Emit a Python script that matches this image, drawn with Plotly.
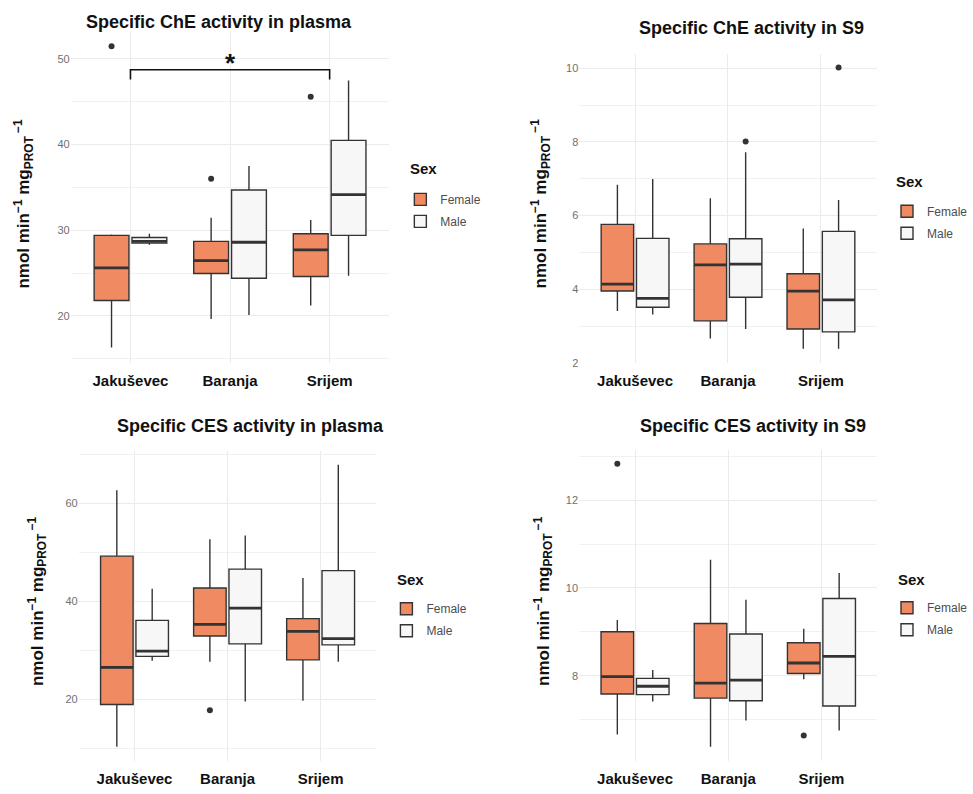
import plotly.graph_objects as go

# ---------------- data ----------------
categories = ["Jakuševec", "Baranja", "Srijem"]
sexes = ["Female", "Male"]

# Panel 1: Specific ChE activity in plasma
che_pl_f_lo = [16.3, 19.65, 21.2]
che_pl_f_q1 = [21.8, 24.95, 24.6]
che_pl_f_med = [25.6, 26.45, 27.7]
che_pl_f_q3 = [29.4, 28.7, 29.6]
che_pl_f_hi = [29.5, 31.45, 31.2]
che_pl_f_out = [[51.5], [36.0], [45.6]]
che_pl_m_lo = [28.3, 20.1, 24.7]
che_pl_m_q1 = [28.5, 24.4, 29.4]
che_pl_m_med = [28.7, 28.6, 34.15]
che_pl_m_q3 = [29.15, 34.7, 40.5]
che_pl_m_hi = [29.6, 37.5, 47.5]
che_pl_m_out = [[], [], []]

# Panel 2: Specific ChE activity in S9
che_s9_f_lo = [3.41, 2.66, 2.38]
che_s9_f_q1 = [3.95, 3.14, 2.92]
che_s9_f_med = [4.135, 4.66, 3.95]
che_s9_f_q3 = [5.76, 5.23, 4.42]
che_s9_f_hi = [6.84, 6.47, 5.65]
che_s9_f_out = [[], [], []]
che_s9_m_lo = [3.31, 2.92, 2.38]
che_s9_m_q1 = [3.51, 3.78, 2.84]
che_s9_m_med = [3.75, 4.68, 3.71]
che_s9_m_q3 = [5.38, 5.37, 5.57]
che_s9_m_hi = [6.99, 7.72, 6.42]
che_s9_m_out = [[], [8.01], [10.02]]

# Panel 3: Specific CES activity in plasma
ces_pl_f_lo = [10.35, 27.7, 19.75]
ces_pl_f_q1 = [19.0, 32.97, 28.1]
ces_pl_f_med = [26.55, 35.33, 33.9]
ces_pl_f_q3 = [49.26, 42.77, 36.5]
ces_pl_f_hi = [62.7, 52.7, 44.8]
ces_pl_f_out = [[], [17.8], []]
ces_pl_m_lo = [27.9, 19.6, 27.7]
ces_pl_m_q1 = [28.8, 31.35, 31.15]
ces_pl_m_med = [29.87, 38.65, 32.43]
ces_pl_m_q3 = [36.15, 46.6, 46.3]
ces_pl_m_hi = [42.6, 53.45, 67.9]
ces_pl_m_out = [[], [], []]

# Panel 4: Specific CES activity in S9
ces_s9_f_lo = [6.66, 6.38, 7.92]
ces_s9_f_q1 = [7.585, 7.49, 8.05]
ces_s9_f_med = [7.98, 7.83, 8.29]
ces_s9_f_q3 = [9.0, 9.19, 8.75]
ces_s9_f_hi = [9.27, 10.64, 9.07]
ces_s9_f_out = [[12.83], [], [6.64]]
ces_s9_m_lo = [7.41, 6.98, 6.75]
ces_s9_m_q1 = [7.57, 7.43, 7.31]
ces_s9_m_med = [7.76, 7.9, 8.44]
ces_s9_m_q3 = [7.94, 8.95, 9.76]
ces_s9_m_hi = [8.13, 9.73, 10.34]
ces_s9_m_out = [[], [], []]

titles = ["Specific ChE activity in plasma", "Specific ChE activity in S9",
          "Specific CES activity in plasma", "Specific CES activity in S9"]
legend_title = "Sex"

# significance bracket in panel 1
sig_pair = ("Jakuševec", "Srijem")
sig_label = "*"
sig_y = 48.75
sig_tick = 47.6
sig_label_y = 49.55

# ---------------- styling / layout ----------------
W, H = 973, 794
FONT = "Liberation Sans, Arial, Helvetica, sans-serif"
COLORS = {"Female": "#EF8A62", "Male": "#F7F7F7"}
LINE = "#333333"
BOXGAP = 0.24
BOXGROUPGAP = 0.08
YTITLE = "<b>nmol min<sup>−1</sup> mg<sub>PROT</sub><sup> −1</sup></b>"

panel_stats = [
    {"Female": (che_pl_f_lo, che_pl_f_q1, che_pl_f_med, che_pl_f_q3, che_pl_f_hi, che_pl_f_out),
     "Male": (che_pl_m_lo, che_pl_m_q1, che_pl_m_med, che_pl_m_q3, che_pl_m_hi, che_pl_m_out)},
    {"Female": (che_s9_f_lo, che_s9_f_q1, che_s9_f_med, che_s9_f_q3, che_s9_f_hi, che_s9_f_out),
     "Male": (che_s9_m_lo, che_s9_m_q1, che_s9_m_med, che_s9_m_q3, che_s9_m_hi, che_s9_m_out)},
    {"Female": (ces_pl_f_lo, ces_pl_f_q1, ces_pl_f_med, ces_pl_f_q3, ces_pl_f_hi, ces_pl_f_out),
     "Male": (ces_pl_m_lo, ces_pl_m_q1, ces_pl_m_med, ces_pl_m_q3, ces_pl_m_hi, ces_pl_m_out)},
    {"Female": (ces_s9_f_lo, ces_s9_f_q1, ces_s9_f_med, ces_s9_f_q3, ces_s9_f_hi, ces_s9_f_out),
     "Male": (ces_s9_m_lo, ces_s9_m_q1, ces_s9_m_med, ces_s9_m_q3, ces_s9_m_hi, ces_s9_m_out)},
]

# pixel geometry of each panel
geom = [
    dict(xdom=(71, 391), ydom=(30.9, 365.3), yrange=[14.5, 53.3], dtick=10, minor=5,
         title=(220, 22), ytitle=(24, 205), legend=(402, 186), legtitle=(410, 170)),
    dict(xdom=(581.7, 880.3), ydom=(53.9, 365.5), yrange=[1.99, 10.4], dtick=2, minor=1,
         title=(755, 28), ytitle=(543, 205), legend=(891, 198), legtitle=(898, 183)),
    dict(xdom=(79, 378), ydom=(453.4, 765.8), yrange=[7.47, 70.8], dtick=20, minor=10,
         title=(252, 429), ytitle=(37, 605), legend=(388, 598), legtitle=(397, 583)),
    dict(xdom=(581.5, 881), ydom=(452.5, 765.7), yrange=[6.06, 13.15], dtick=2, minor=1,
         title=(756, 429), ytitle=(545, 605), legend=(891, 597), legtitle=(900, 583)),
]

fig = go.Figure()
xpos = list(range(len(categories)))
offset = {"Female": -(1 - BOXGAP) / 4, "Male": (1 - BOXGAP) / 4}

annotations = []
shapes = []
layout = {}

for i, (stats, g) in enumerate(zip(panel_stats, geom), start=1):
    sfx = "" if i == 1 else str(i)
    xa, ya = "x" + sfx, "y" + sfx
    leg = "legend" + sfx
    # boxes
    for sex in sexes:
        lo, q1, med, q3, hi, out = stats[sex]
        fig.add_trace(go.Box(
            x=xpos, lowerfence=lo, q1=q1, median=med, q3=q3, upperfence=hi,
            name=sex, fillcolor=COLORS[sex], line=dict(color=LINE, width=1.4),
            whiskerwidth=0, boxpoints=False, offsetgroup=sex, alignmentgroup="g%d" % i,
            legendgroup="%s%d" % (sex, i),
            xaxis=xa, yaxis=ya, legend=leg, showlegend=True, hoverinfo="skip"))
    # thicker median lines
    for sex in sexes:
        lo, q1, med, q3, hi, out = stats[sex]
        fig.add_trace(go.Box(
            x=xpos, lowerfence=med, q1=med, median=med, q3=med, upperfence=med,
            name=sex, fillcolor="rgba(0,0,0,0)", line=dict(color=LINE, width=2.8),
            whiskerwidth=0, boxpoints=False, offsetgroup=sex, alignmentgroup="g%d" % i,
            xaxis=xa, yaxis=ya, legend=leg, showlegend=False, hoverinfo="skip"))
    # outliers
    for sex in sexes:
        out = stats[sex][5]
        ox, oy = [], []
        for k, vals in enumerate(out):
            for v in vals:
                ox.append(xpos[k] + offset[sex])
                oy.append(v)
        if ox:
            fig.add_trace(go.Scatter(x=ox, y=oy, mode="markers",
                                     marker=dict(color=LINE, size=6),
                                     xaxis=xa, yaxis=ya, showlegend=False, hoverinfo="skip"))

    layout["xaxis" + sfx] = dict(
        domain=[g["xdom"][0] / W, g["xdom"][1] / W], anchor=ya, range=[-0.6, 2.6],
        tickvals=xpos, ticktext=categories, showgrid=True, gridcolor="#EBEBEB", gridwidth=1.2,
        zeroline=False, showline=False, ticks="", ticklabelstandoff=7,
        tickfont=dict(family=FONT, size=15, color="#111111", weight="bold"))
    layout["yaxis" + sfx] = dict(
        domain=[1 - g["ydom"][1] / H, 1 - g["ydom"][0] / H], anchor=xa, range=g["yrange"],
        dtick=g["dtick"], tick0=0, showgrid=True, gridcolor="#EBEBEB", gridwidth=1.2,
        minor=dict(dtick=g["minor"], tick0=0, showgrid=True, gridcolor="#F1F1F1", gridwidth=1),
        zeroline=False, showline=False, ticks="",
        tickfont=dict(family=FONT, size=11, color="#707070"))
    layout[leg] = dict(
        font=dict(family=FONT, size=12, color="#4D4D4D"),
        x=g["legend"][0] / W, y=1 - g["legend"][1] / H, xanchor="left", yanchor="top",
        bgcolor="rgba(0,0,0,0)", tracegroupgap=3)

    annotations.append(dict(text="<b>%s</b>" % legend_title, xref="paper", yref="paper",
                            x=g["legtitle"][0] / W, y=1 - g["legtitle"][1] / H,
                            xanchor="left", yanchor="middle", showarrow=False,
                            font=dict(family=FONT, size=15, color="#111111")))
    annotations.append(dict(text="<b>%s</b>" % titles[i - 1], xref="paper", yref="paper",
                            x=g["title"][0] / W, y=1 - g["title"][1] / H,
                            xanchor="center", yanchor="middle", showarrow=False,
                            font=dict(family=FONT, size=18, color="#111111")))
    annotations.append(dict(text=YTITLE, xref="paper", yref="paper",
                            x=g["ytitle"][0] / W, y=1 - g["ytitle"][1] / H, textangle=-90,
                            xanchor="center", yanchor="middle", showarrow=False,
                            font=dict(family=FONT, size=17, color="#111111")))

# significance bracket (panel 1)
x0 = categories.index(sig_pair[0])
x1 = categories.index(sig_pair[1])
shapes.append(dict(type="path", xref="x", yref="y",
                   path="M %s,%s L %s,%s L %s,%s L %s,%s" % (x0, sig_tick, x0, sig_y, x1, sig_y, x1, sig_tick),
                   line=dict(color="#111111", width=1.6)))
annotations.append(dict(text="<b>%s</b>" % sig_label, xref="x", yref="y", x=(x0 + x1) / 2, y=sig_label_y,
                        xanchor="center", yanchor="middle", showarrow=False,
                        font=dict(family=FONT, size=26, color="#111111")))

fig.update_layout(
    width=W, height=H, margin=dict(l=0, r=0, t=0, b=0),
    paper_bgcolor="white", plot_bgcolor="white",
    boxmode="group", boxgap=BOXGAP, boxgroupgap=BOXGROUPGAP,
    font=dict(family=FONT),
    annotations=annotations, shapes=shapes, **layout)

fig.write_html("out.html")
